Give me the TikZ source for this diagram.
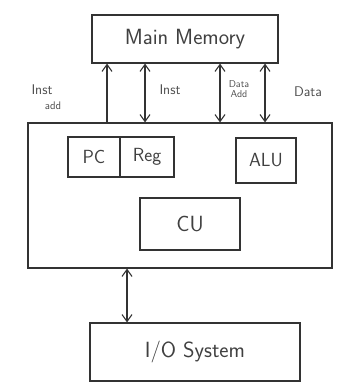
\documentclass[tikz,border=0pt]{standalone}
\usetikzlibrary{arrows.meta}
\begin{document}
\begin{tikzpicture}[x=1pt,y=-1pt,
  box/.style={draw=black!80,line width=1.1pt,inner sep=0pt,font=\sffamily\fontsize{19}{19}\selectfont,text=black!75},
  conn/.style={draw=black!80,line width=1.1pt},
  lbl/.style={font=\sffamily\fontsize{14}{14}\selectfont,text=black!70,inner sep=0pt,align=center},
]
\useasboundingbox (0,0) rectangle (340,382);
\node[box,minimum width=186pt,minimum height=48pt,font=\sffamily\fontsize{22}{22}\selectfont] (mem) at (185,39) {Main Memory};
\node[box,minimum width=304pt,minimum height=145pt] (cpu) at (180,195.5) {};
\node[box,minimum width=52pt,minimum height=40pt] (pc) at (94,157) {PC};
\node[box,minimum width=54pt,minimum height=40pt] (reg) at (147,157) {Reg};
\node[box,minimum width=60pt,minimum height=45pt] (alu) at (266,160.5) {ALU};
\node[box,minimum width=100pt,minimum height=52pt,font=\sffamily\fontsize{22}{22}\selectfont] (cu) at (190,224) {CU};
\node[box,minimum width=210pt,minimum height=58pt,font=\sffamily\fontsize{22}{22}\selectfont] (io) at (195,352) {I/O System};
\draw[conn,-{Straight Barb[length=7pt,width=10pt]}] (cpu.north -| 107,0) -- (mem.south -| 107,0);
\draw[conn,{Straight Barb[length=7pt,width=10pt]}-{Straight Barb[length=7pt,width=10pt]}] (cpu.north -| 145,0) -- (mem.south -| 145,0);
\draw[conn,{Straight Barb[length=7pt,width=10pt]}-{Straight Barb[length=7pt,width=10pt]}] (cpu.north -| 220,0) -- (mem.south -| 220,0);
\draw[conn,{Straight Barb[length=7pt,width=10pt]}-{Straight Barb[length=7pt,width=10pt]}] (cpu.north -| 265,0) -- (mem.south -| 265,0);
\draw[conn,{Straight Barb[length=7pt,width=10pt]}-{Straight Barb[length=7pt,width=10pt]}] (cpu.south -| 127,0) -- (io.north -| 127,0);
\node[lbl] (l1) at (42,97) {Inst\\[1pt]\hspace*{22pt}{\fontsize{11}{11}\selectfont add}};
\node[lbl] (l2) at (170,90) {Inst};
\node[lbl,font=\sffamily\fontsize{10}{10}\selectfont] (l3) at (239,89) {Data\\Add};
\node[lbl] (l4) at (308,92) {Data};
\end{tikzpicture}
\end{document}
